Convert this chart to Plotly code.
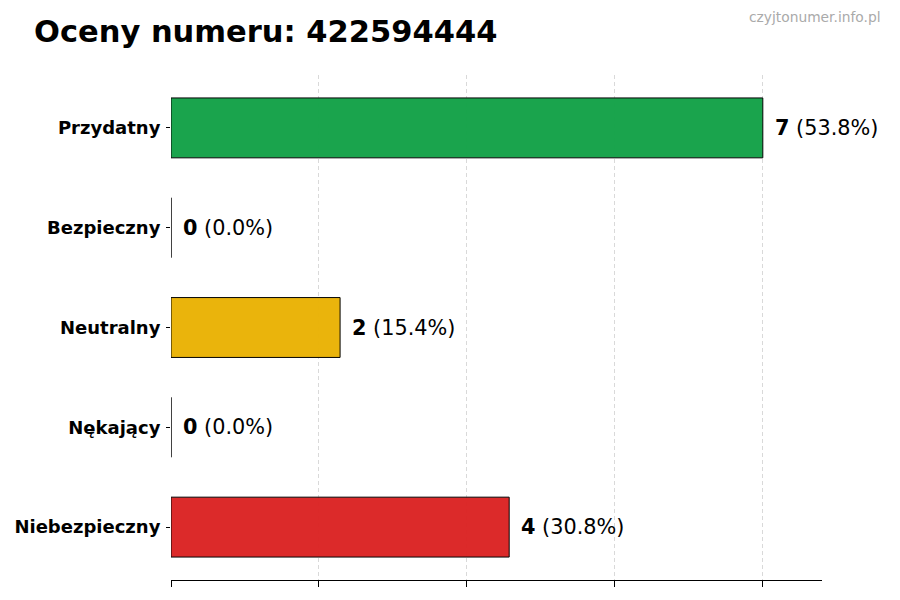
import plotly.graph_objects as go

# --- Datos ---
categorias = ['Przydatny', 'Bezpieczny', 'Neutralny', 'Nękający', 'Niebezpieczny']
liczby = [7, 0, 2, 0, 4]
kolory = ['#16a34a', '#9ca3af', '#eab308', '#f97316', '#dc2626']
numer = '422594444'

suma = sum(liczby)
procenty = [round(v / suma * 100, 1) for v in liczby]

# strona ma 8px marginesu body -> przesunięcie
OFF = 8

fig = go.Figure()

fig.add_trace(go.Bar(
    y=categorias,
    x=liczby,
    orientation='h',
    width=0.6,
    marker=dict(color=kolory, opacity=0.98, line=dict(color='black', width=1)),
    hoverinfo='skip',
    showlegend=False,
))

# etykiety przy słupkach
for cat, v, p in zip(categorias, liczby, procenty):
    fig.add_annotation(
        x=v, y=cat, xref='x', yref='y',
        text=f'<b>{v}</b> ({p}%)',
        showarrow=False, xanchor='left', yanchor='middle',
        xshift=10,
        font=dict(family='DejaVu Sans', size=20.8, color='black'),
    )

fig.add_annotation(
    text='czyjtonumer.info.pl', xref='paper', yref='paper',
    x=1.0, y=1.0, xanchor='right', yanchor='middle',
    xshift=875 - (822 - OFF), yshift=75 - 17, showarrow=False,
    font=dict(family='DejaVu Sans', size=13.8, color='#aaaaaa'),
)

maks = max(liczby)
fig.update_xaxes(
    range=[0, maks * 1.1],
    tickvals=[maks * i / 4 for i in range(5)],
    showticklabels=False,
    ticks='outside', ticklen=6, tickcolor='black', tickwidth=1,
    showline=True, linecolor='black', linewidth=1,
    showgrid=True, gridcolor='#d9d9d9', griddash='4px,3px', gridwidth=0.8,
    zeroline=False, automargin=False,
)
fig.update_yaxes(
    categoryorder='array', categoryarray=categorias,
    range=[4.53, -0.53],
    ticks='outside', ticklen=4, tickcolor='black',
    ticklabelstandoff=2,
    showline=False, showgrid=False, zeroline=False, automargin=False,
    tickfont=dict(family='DejaVu Sans', size=18, color='black', weight='bold'),
)

fig.update_layout(
    title=dict(
        text=f'<b>Oceny numeru: {numer}</b>',
        x=(34 - OFF) / 900, xanchor='left', y=1 - (31 - OFF) / 600, yanchor='middle',
        font=dict(family='DejaVu Sans', size=30.5, color='black'),
    ),
    width=900, height=600,
    margin=dict(l=171 - OFF, r=900 - (822 - OFF), t=75 - OFF, b=600 - (580 - OFF)),
    plot_bgcolor='white', paper_bgcolor='white',
)

fig.write_html('out.html')
